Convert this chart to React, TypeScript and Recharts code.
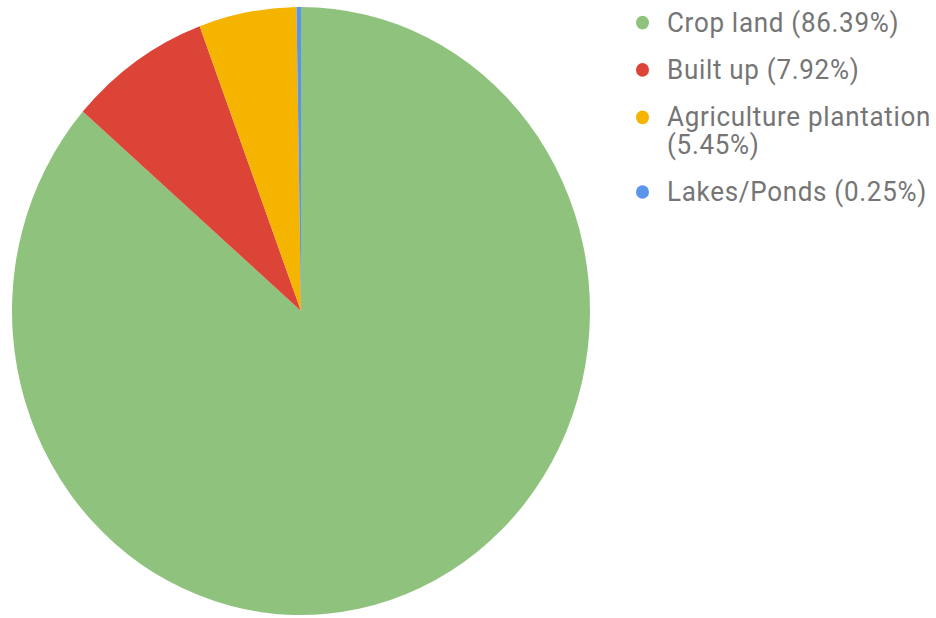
import React from 'react';
import { PieChart, Pie, Cell, Legend } from 'recharts';

const categories = ['Crop land', 'Built up', 'Agriculture plantation', 'Lakes/Ponds'];
const shares = [86.39, 7.92, 5.45, 0.25];
const shareLabels = ['86.39%', '7.92%', '5.45%', '0.25%'];
const colors = ['#8fc37d', '#dc4437', '#f4b400', '#5a94ec'];

const data = categories.map((name, i) => ({ name, value: shares[i], label: shareLabels[i], color: colors[i] }));

const renderLegend = () => (
  <div style={{ display: 'flex', flexDirection: 'column', gap: 19, paddingTop: 8, fontFamily: 'Roboto', fontSize: 26, lineHeight: '26px', letterSpacing: '0.7px', color: '#757575' }}>
    {data.map((d) => (
      <div key={d.name} style={{ display: 'flex', alignItems: 'flex-start' }}>
        <div style={{ width: 13, height: 13, borderRadius: '50%', background: d.color, marginLeft: 6, marginTop: 7, flex: 'none' }} />
        <div style={{ marginLeft: 18, maxWidth: 270 }}>{`${d.name} (${d.label})`}</div>
      </div>
    ))}
  </div>
);

export default function App() {
  return (
    <div style={{ position: 'absolute', left: 0, top: 0, width: 936, height: 618, overflow: 'hidden', background: '#fff' }}>
      <div style={{ width: 936, height: 587, transform: 'scaleY(1.052)', transformOrigin: 'top left' }}>
        <PieChart width={936} height={587} margin={{ top: 0, right: 0, bottom: 0, left: 0 }}>
          <Pie
            data={data}
            dataKey="value"
            nameKey="name"
            cx={301}
            cy={295.6}
            outerRadius={289}
            startAngle={90}
            endAngle={-270}
            stroke="none"
            isAnimationActive={false}
          >
            {data.map((d) => (
              <Cell key={d.name} fill={d.color} />
            ))}
          </Pie>
          <Legend
            content={renderLegend}
            wrapperStyle={{ position: 'absolute', left: 630, top: 0, width: 306 }}
          />
        </PieChart>
      </div>
    </div>
  );
}
